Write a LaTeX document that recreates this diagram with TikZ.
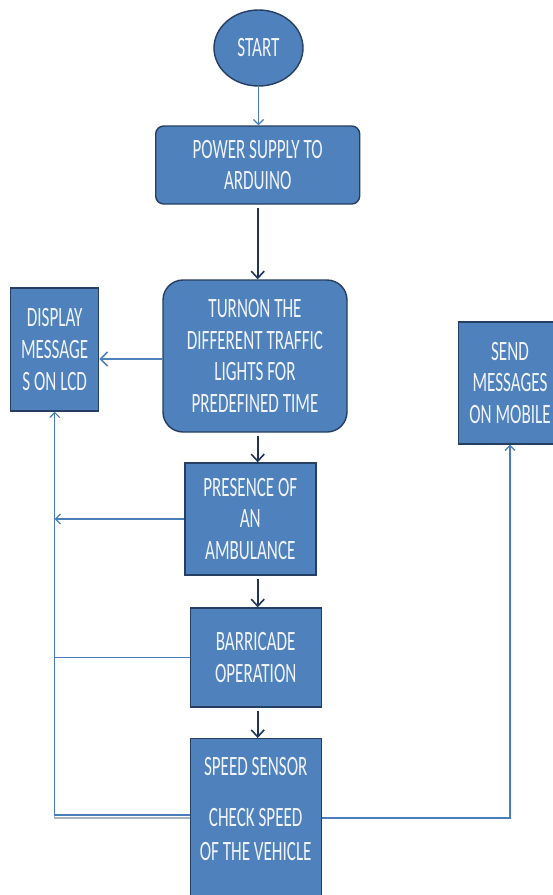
\documentclass[tikz,border=0pt]{standalone}
\usepackage{fontspec}
\setmainfont[FakeStretch=0.61]{Carlito}
\usetikzlibrary{arrows.meta,shapes.geometric}
\definecolor{boxfill}{HTML}{4F81BD}
\definecolor{boxline}{HTML}{253F62}
\definecolor{darkarr}{HTML}{1F3558}
\definecolor{lightarr}{HTML}{4A7EBB}
\definecolor{greyline}{HTML}{A9B4C2}
\definecolor{txt}{HTML}{F0F4FA}
\begin{document}
\begin{tikzpicture}[x=1pt,y=-1pt,
  boxfont/.style={font=\fontsize{28}{31.7}\selectfont},
  box/.style={draw=boxline, line width=1.4pt, fill=boxfill, text=txt, align=center, inner sep=0pt, boxfont},
  darr/.style={draw=darkarr, line width=1.8pt, shorten <=3pt, -{Straight Barb[length=7pt,width=13pt,line width=1.6pt]}},
  larr/.style={draw=lightarr, line width=1.5pt},
  lhead/.style={-{Straight Barb[length=5pt,width=10pt,line width=1.2pt]}},
  bighead/.style={-{Straight Barb[length=7pt,width=14pt,line width=1.6pt]}}]
\useasboundingbox (0,0) rectangle (553,895);
\fill[white] (0,0) rectangle (553,895);

\node[box, ellipse, minimum width=89pt, minimum height=76pt] (start) at (258.5,48) {START};
\node[box, rounded corners=8pt, minimum width=204pt, minimum height=78pt] (power) at (257.7,165) {POWER SUPPLY TO\\ARDUINO};
\node[box, rounded corners=20pt, minimum width=184pt, minimum height=152pt] (traffic) at (255,356) {TURNON THE\\DIFFERENT TRAFFIC\\LIGHTS FOR\\PREDEFINED TIME};
\node[box, minimum width=88pt, minimum height=123pt] (display) at (54.7,349.5) {DISPLAY\\MESSAGE\\S ON LCD};
\node[box, minimum width=103pt, minimum height=122pt] (send) at (510,383) {SEND\\MESSAGES\\ON MOBILE};
\node[box, minimum width=131pt, minimum height=112pt] (presence) at (250.3,519) {PRESENCE OF\\AN\\AMBULANCE};
\node[box, minimum width=131pt, minimum height=99pt] (barricade) at (255.7,657.5) {BARRICADE\\OPERATION};
\node[box, minimum width=131pt, minimum height=200pt, anchor=north] (speed) at (255.7,738) {};
\node[text=txt, align=center, inner sep=0pt, boxfont] (speedtxt) at (255.7,809) {SPEED SENSOR\\[19pt]CHECK SPEED\\[3pt]OF THE VEHICLE};

% main flow
\draw[larr, line width=1.2pt, lhead] (start.south) -- (start.south |- power.north);
\draw[darr] (power.south) -- (power.south |- traffic.north);
\draw[darr] (traffic.south -| power.south) -- (power.south |- presence.north);
\draw[darr] (presence.south -| power.south) -- (power.south |- barricade.north);
\draw[darr] (barricade.south -| power.south) -- (power.south |- speed.north);

% to display
\coordinate (tw) at ([yshift=-3pt]traffic.west);
\draw[draw=boxfill, line width=2.8pt, bighead] (tw) -- (tw -| display.east);
\draw[larr, lhead] (presence.west) -- (presence.west -| display.south);
\draw[larr] (barricade.west) -- (barricade.west -| display.south);
\coordinate (sl) at ([yshift=-77pt]speed.north west);
\coordinate (gl) at ([yshift=-80pt]speed.north west);
\draw[greyline, line width=1.3pt] (gl) -- (gl -| display.south) -- ([yshift=25pt]gl -| display.south);
\draw[larr, lhead] (sl) -| (display.south);

% to send
\coordinate (sr) at ([yshift=-80pt]speed.north east);
\draw[larr, lhead] (sr) -| (send.south);
\end{tikzpicture}
\end{document}
